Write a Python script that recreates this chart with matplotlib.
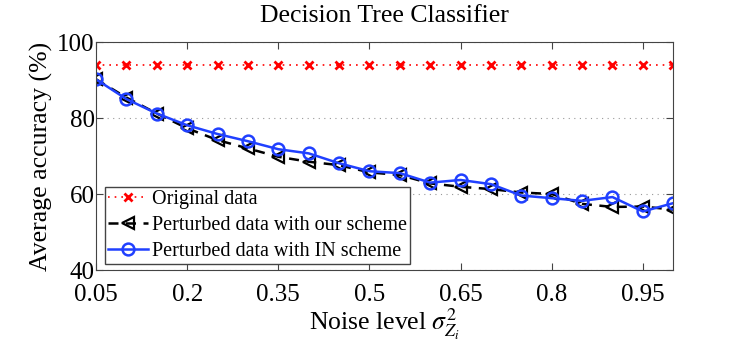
import matplotlib

matplotlib.use("Agg")
import matplotlib.pyplot as plt

# noise level sigma^2 of Z_i
noise = [0.05, 0.10, 0.15, 0.20, 0.25, 0.30, 0.35, 0.40, 0.45, 0.50,
         0.55, 0.60, 0.65, 0.70, 0.75, 0.80, 0.85, 0.90, 0.95, 1.00]

# average accuracy (%)
original = [94.2] * 20
ours = [90.3, 85.5, 81.3, 77.4, 74.3, 72.1, 69.9, 68.6, 67.7, 65.8,
        65.1, 62.9, 62.0, 61.4, 60.5, 60.1, 57.5, 56.7, 56.8, 56.0]
in_scheme = [90.3, 85.1, 81.3, 78.2, 75.9, 74.0, 71.9, 70.8, 68.2, 66.1,
             65.6, 63.1, 63.8, 62.7, 59.7, 59.0, 58.3, 59.3, 55.5, 57.7]

xticks = [0.05, 0.2, 0.35, 0.5, 0.65, 0.8, 0.95]
yticks = [40, 60, 80, 100]

plt.rcParams["font.family"] = ["Liberation Serif", "DejaVu Serif"]
plt.rcParams["mathtext.fontset"] = "stix"

fig = plt.figure(figsize=(7.39, 3.6), dpi=100)
ax = fig.add_axes([0.130, 0.249, 0.781, 0.633])

ax.plot(noise, original, color="red", linestyle=(0, (1, 3)), linewidth=1.2,
        marker="x", markersize=5.5, markeredgewidth=2, label="Original data")
ax.plot(noise, ours, color="black", linestyle=(0, (4, 3)), linewidth=1.8,
        marker="<", markersize=8.5, markerfacecolor="none", markeredgewidth=1.6,
        label="Perturbed data with our scheme")
ax.plot(noise, in_scheme, color="#2040ff", linestyle="-", linewidth=1.8,
        marker="o", markersize=8.5, markerfacecolor="none", markeredgewidth=1.8,
        label="Perturbed data with IN scheme")

ax.set_xlim(0.05, 1.0)
ax.set_ylim(40, 100)
ax.set_xticks(xticks)
ax.set_xticklabels([f"{t:g}" for t in xticks])
ax.set_yticks(yticks)
ax.yaxis.grid(True, linestyle=(0, (1, 4)), color="#999999", linewidth=0.8)
ax.tick_params(direction="in", top=True, right=True, labelsize=18, length=5,
               color="#444444")
ax.tick_params(axis="x", pad=10)
ax.tick_params(axis="y", pad=1)
for s in ax.spines.values():
    s.set_color("#444444")

ax.set_title("Decision Tree Classifier", fontsize=18.5, pad=15)
ax.set_xlabel(r"Noise level $\sigma^2_{Z_i}$", fontsize=18.5, labelpad=0)
ax.set_ylabel("Average accuracy (%)", fontsize=18.5, labelpad=3)

leg = ax.legend(loc="lower left", bbox_to_anchor=(0.005, 0.0), fontsize=14.5,
                fancybox=False, framealpha=1, edgecolor="#444444",
                handlelength=2.0, handletextpad=0.2, borderpad=0.15,
                labelspacing=0.35, borderaxespad=0.3)
leg.get_frame().set_linewidth(1.0)

fig.savefig("out.png", dpi=100)
